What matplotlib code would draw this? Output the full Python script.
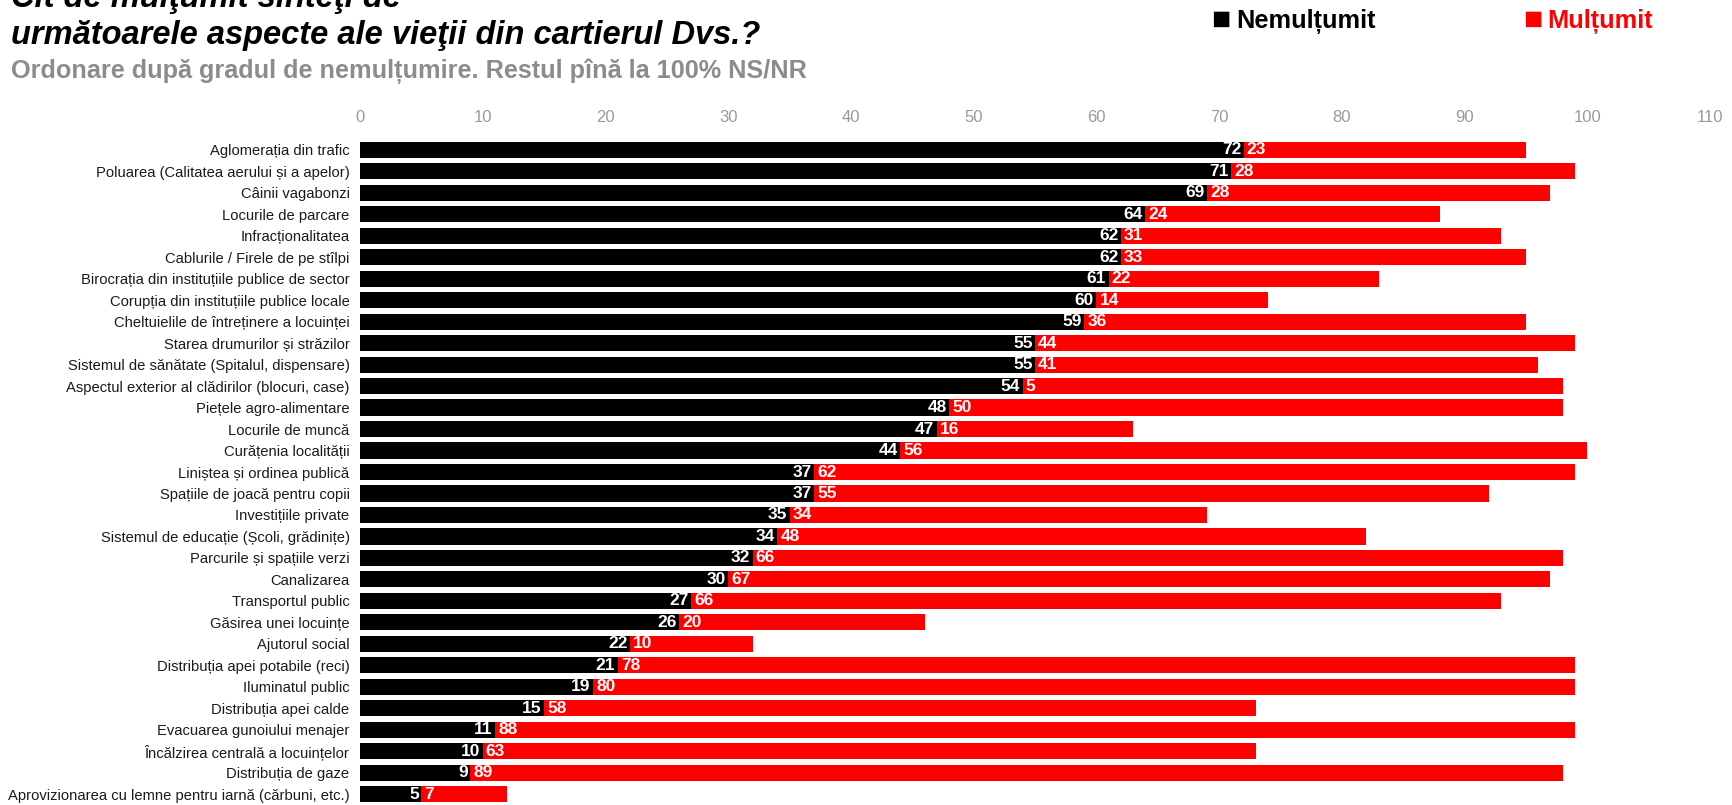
import matplotlib
matplotlib.use('Agg')
import matplotlib.pyplot as plt

categories = [
    'Aglomerația din trafic',
    'Poluarea (Calitatea aerului și a apelor)',
    'Câinii vagabonzi',
    'Locurile de parcare',
    'Infracționalitatea',
    'Cablurile / Firele de pe stîlpi',
    'Birocrația din instituțiile publice de sector',
    'Corupția din instituțiile publice locale',
    'Cheltuielile de întreținere a locuinței',
    'Starea drumurilor și străzilor',
    'Sistemul de sănătate (Spitalul, dispensare)',
    'Aspectul exterior al clădirilor (blocuri, case)',
    'Piețele agro-alimentare',
    'Locurile de muncă',
    'Curățenia localității',
    'Liniștea și ordinea publică',
    'Spațiile de joacă pentru copii',
    'Investițiile private',
    'Sistemul de educație (Școli, grădinițe)',
    'Parcurile și spațiile verzi',
    'Canalizarea',
    'Transportul public',
    'Găsirea unei locuințe',
    'Ajutorul social',
    'Distribuția apei potabile (reci)',
    'Iluminatul public',
    'Distribuția apei calde',
    'Evacuarea gunoiului menajer',
    'Încălzirea centrală a locuințelor',
    'Distribuția de gaze',
    'Aprovizionarea cu lemne pentru iarnă (cărbuni, etc.)',
]
nemultumit = [72, 71, 69, 64, 62, 62, 61, 60, 59, 55, 55, 54, 48, 47, 44, 37, 37,
              35, 34, 32, 30, 27, 26, 22, 21, 19, 15, 11, 10, 9, 5]
multumit = [23, 28, 28, 24, 31, 33, 22, 14, 36, 44, 41, 44, 50, 16, 56, 62, 55,
            34, 48, 66, 67, 66, 20, 10, 78, 80, 58, 88, 63, 89, 7]
# the source prints "5" on the red bar of "Aspectul exterior", though the bar is ~44 long
multumit_text = [str(v) for v in multumit]
multumit_text[11] = '5'

xticks = [0, 10, 20, 30, 40, 50, 60, 70, 80, 90, 100, 110]

W, H = 1733, 805
fig = plt.figure(figsize=(W / 100, H / 100), dpi=100)
ax = fig.add_axes([360 / W, 0, (1710 - 360) / W, 1 - 139 / H])

y = list(range(len(categories)))
ax.barh(y, nemultumit, height=0.75, color='black')
ax.barh(y, multumit, left=nemultumit, height=0.75, color='#ff0000')

num_font = ['Liberation Sans', 'DejaVu Sans']
for i in y:
    ax.text(nemultumit[i] - 0.2, i, str(nemultumit[i]), ha='right', va='center',
            color='white', fontsize=12.5, fontweight='bold', family=num_font)
    ax.text(nemultumit[i] + 0.25, i, multumit_text[i], ha='left', va='center',
            color='white', fontsize=12.5, fontweight='bold', family=num_font)

ax.set_xlim(0, 110)
ax.set_ylim(len(categories) - 0.5, -0.5)
ax.set_xticks(xticks)
ax.set_xticklabels([str(t) for t in xticks], color='#9a9a9a', fontsize=12,
                   family='Liberation Sans')
ax.xaxis.tick_top()
ax.tick_params(axis='x', length=0, pad=10)
ax.set_yticks(y)
ax.set_yticklabels(categories, fontsize=10.6, family='Liberation Sans', color='#1a1a1a')
ax.tick_params(axis='y', length=0, pad=7.5)
for s in ax.spines.values():
    s.set_visible(False)

fig.text(11 / W, 1 - 7 / H, 'Cît de mulţumit sînteţi de', ha='left', va='baseline',
         fontsize=23.5, fontweight='bold', style='italic', family='Liberation Sans')
fig.text(11 / W, 1 - 44 / H, 'următoarele aspecte ale vieţii din cartierul Dvs.?',
         ha='left', va='baseline', fontsize=23.5, fontweight='bold', style='italic',
         family='Liberation Sans')
fig.text(11 / W, 1 - 78 / H, 'Ordonare după gradul de nemulțumire. Restul pînă la 100% NS/NR',
         ha='left', va='baseline', fontsize=18.2, fontweight='bold', color='#8c8c8c',
         family='Liberation Sans')

leg_font = ['Liberation Sans', 'DejaVu Sans']
fig.text(1211 / W, 1 - 21 / H, '■', ha='left', va='center', fontsize=23,
         color='black', family=leg_font)
fig.text(1236 / W, 1 - 21 / H, 'Nemulțumit', ha='left', va='center', fontsize=18.3,
         fontweight='bold', color='black', family=leg_font)
fig.text(1523 / W, 1 - 21 / H, '■', ha='left', va='center', fontsize=23,
         color='#ff0000', family=leg_font)
fig.text(1547 / W, 1 - 21 / H, 'Mulțumit', ha='left', va='center', fontsize=18.3,
         fontweight='bold', color='#ff0000', family=leg_font)

fig.savefig('out.png', dpi=100)
